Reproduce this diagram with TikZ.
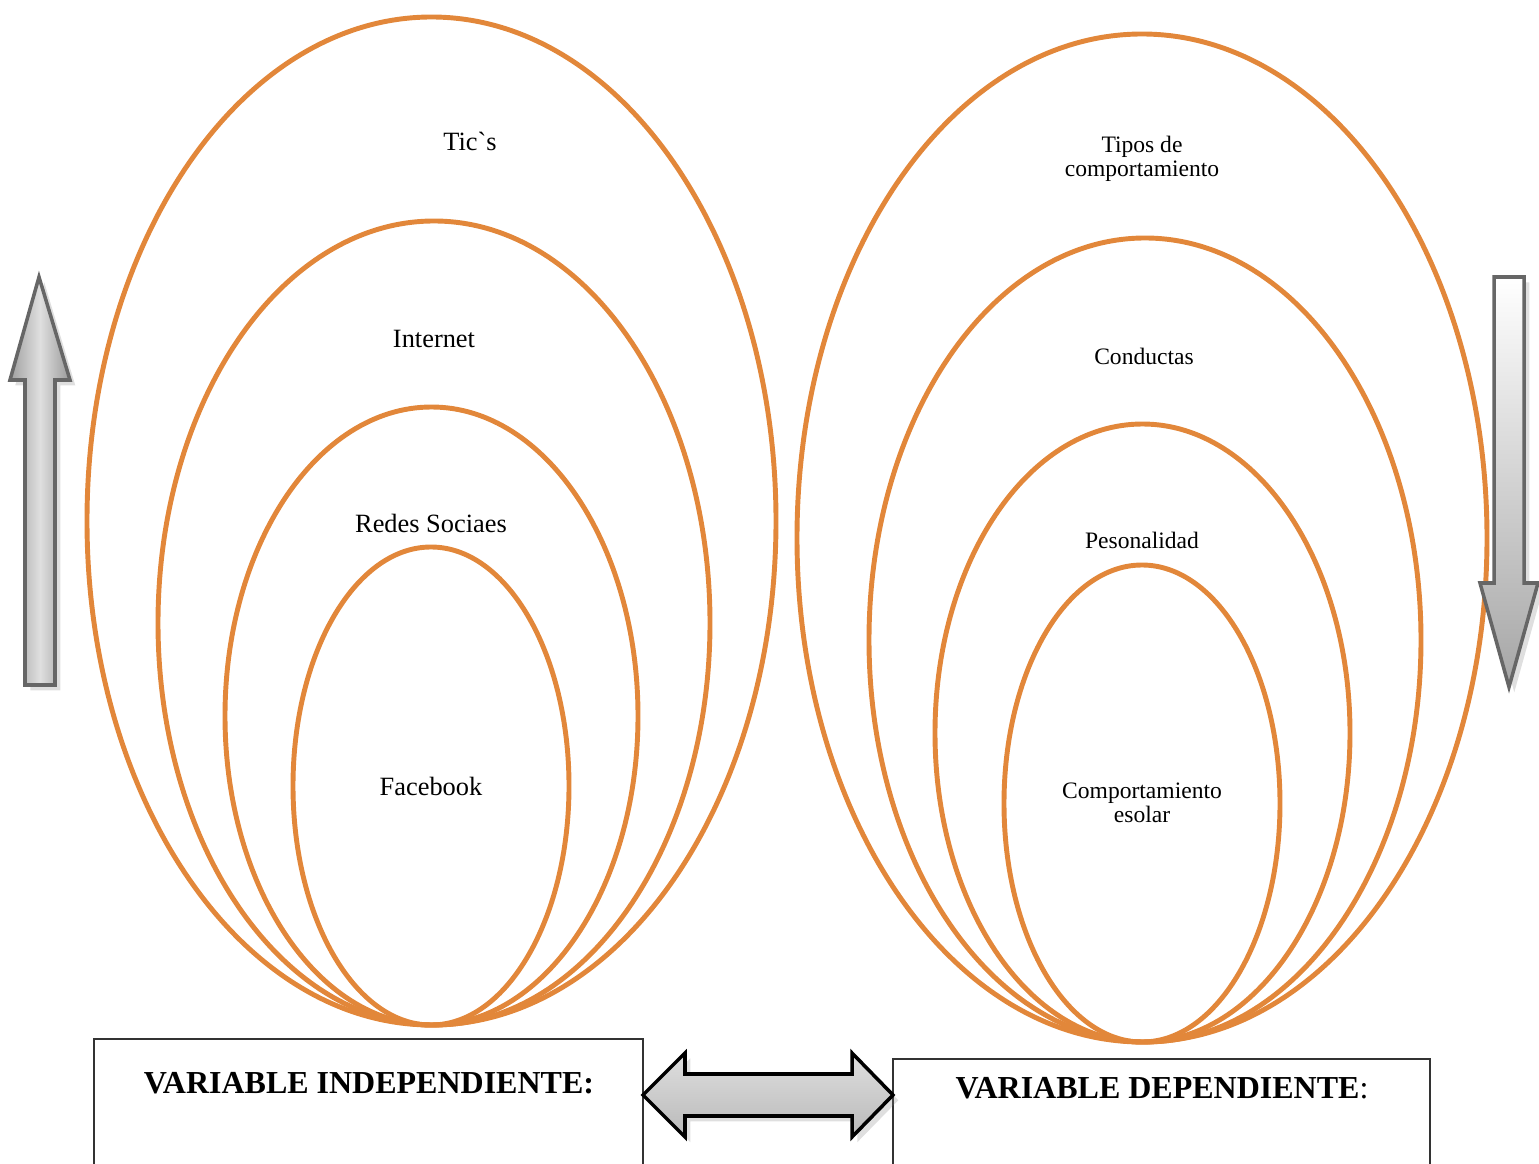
\documentclass[tikz,border=0pt]{standalone}
\usepackage{fontspec}
\setmainfont{Liberation Serif}[Ligatures=TeXOff]
\usetikzlibrary{shadows}
\definecolor{capaorange}{RGB}{226,135,58}

\tikzset{
  capa/.style={draw=capaorange, line width=1.4pt},
  etiq/.style={font=\fontsize{7.5}{8}\selectfont, inner sep=0pt, align=center},
  etiqd/.style={font=\fontsize{6.7}{7}\selectfont, inner sep=0pt, align=center},
  titulo/.style={font=\fontsize{9.1}{11}\selectfont\bfseries, inner sep=0pt},
  caja/.style={draw=black!80, line width=0.5pt},
  flecha/.style={draw=black!60, line width=1pt,
    drop shadow={shadow xshift=1.5pt, shadow yshift=-1.5pt, opacity=0.25}}
}

\begin{document}
\begin{tikzpicture}[x=0.01cm, y=-0.01cm]
\useasboundingbox (0,0) rectangle (1539,1164);

% variable independiente
\draw[capa] (431.5,521) ellipse [x radius=344.5, y radius=504];
\draw[capa] (434,623) ellipse [x radius=276, y radius=402];
\draw[capa] (431.5,716) ellipse [x radius=206.5, y radius=309];
\draw[capa] (431,786) ellipse [x radius=138, y radius=239];
\node[etiq] (tics) at (470,141) {Tic`s};
\node[etiq] (internet) at (434,339) {Internet};
\node[etiq] (redes) at (431,523) {Redes Sociaes};
\node[etiq] (facebook) at (431,786) {Facebook};

% variable dependiente
\draw[capa] (1142,538) ellipse [x radius=345, y radius=504];
\draw[capa] (1145,640) ellipse [x radius=276, y radius=402];
\draw[capa] (1142.5,733) ellipse [x radius=207.5, y radius=309];
\draw[capa] (1142,803.5) ellipse [x radius=138, y radius=238.5];
\node[etiqd] (tipos) at (1142,159) {Tipos de\\comportamiento};
\node[etiqd] (conductas) at (1144,356) {Conductas};
\node[etiqd] (pesonalidad) at (1142,540) {Pesonalidad};
\node[etiqd] (escolar) at (1142,803) {Comportamiento\\esolar};

% flechas
\draw[flecha, left color=gray!75, right color=gray!80, middle color=gray!25]
  (39,277) -- (70,380) -- (55,380) -- (55,685) -- (25,685) -- (25,380) -- (10,380) -- cycle;
\draw[flecha, top color=white, bottom color=gray!70]
  (1494,277) -- (1524,277) -- (1524,583) -- (1538,583) -- (1509,687) -- (1480,583) -- (1494,583) -- cycle;

% cajas
\draw[caja] (94,1170) |- (643,1039) -- (643,1170);
\draw[caja] (893,1170) |- (1430,1059) -- (1430,1170);
\node[titulo] (indep) at (369,1083) {VARIABLE INDEPENDIENTE:};
\node[titulo] (dep) at (1162,1088) {VARIABLE DEPENDIENTE\textmd{:}};

\draw[flecha, draw=black, top color=gray!25, bottom color=gray!55]
  (643,1095) -- (685,1053) -- (685,1074) -- (852,1074) -- (852,1053) -- (893,1095)
  -- (852,1137) -- (852,1116) -- (685,1116) -- (685,1137) -- cycle;
\end{tikzpicture}
\end{document}
